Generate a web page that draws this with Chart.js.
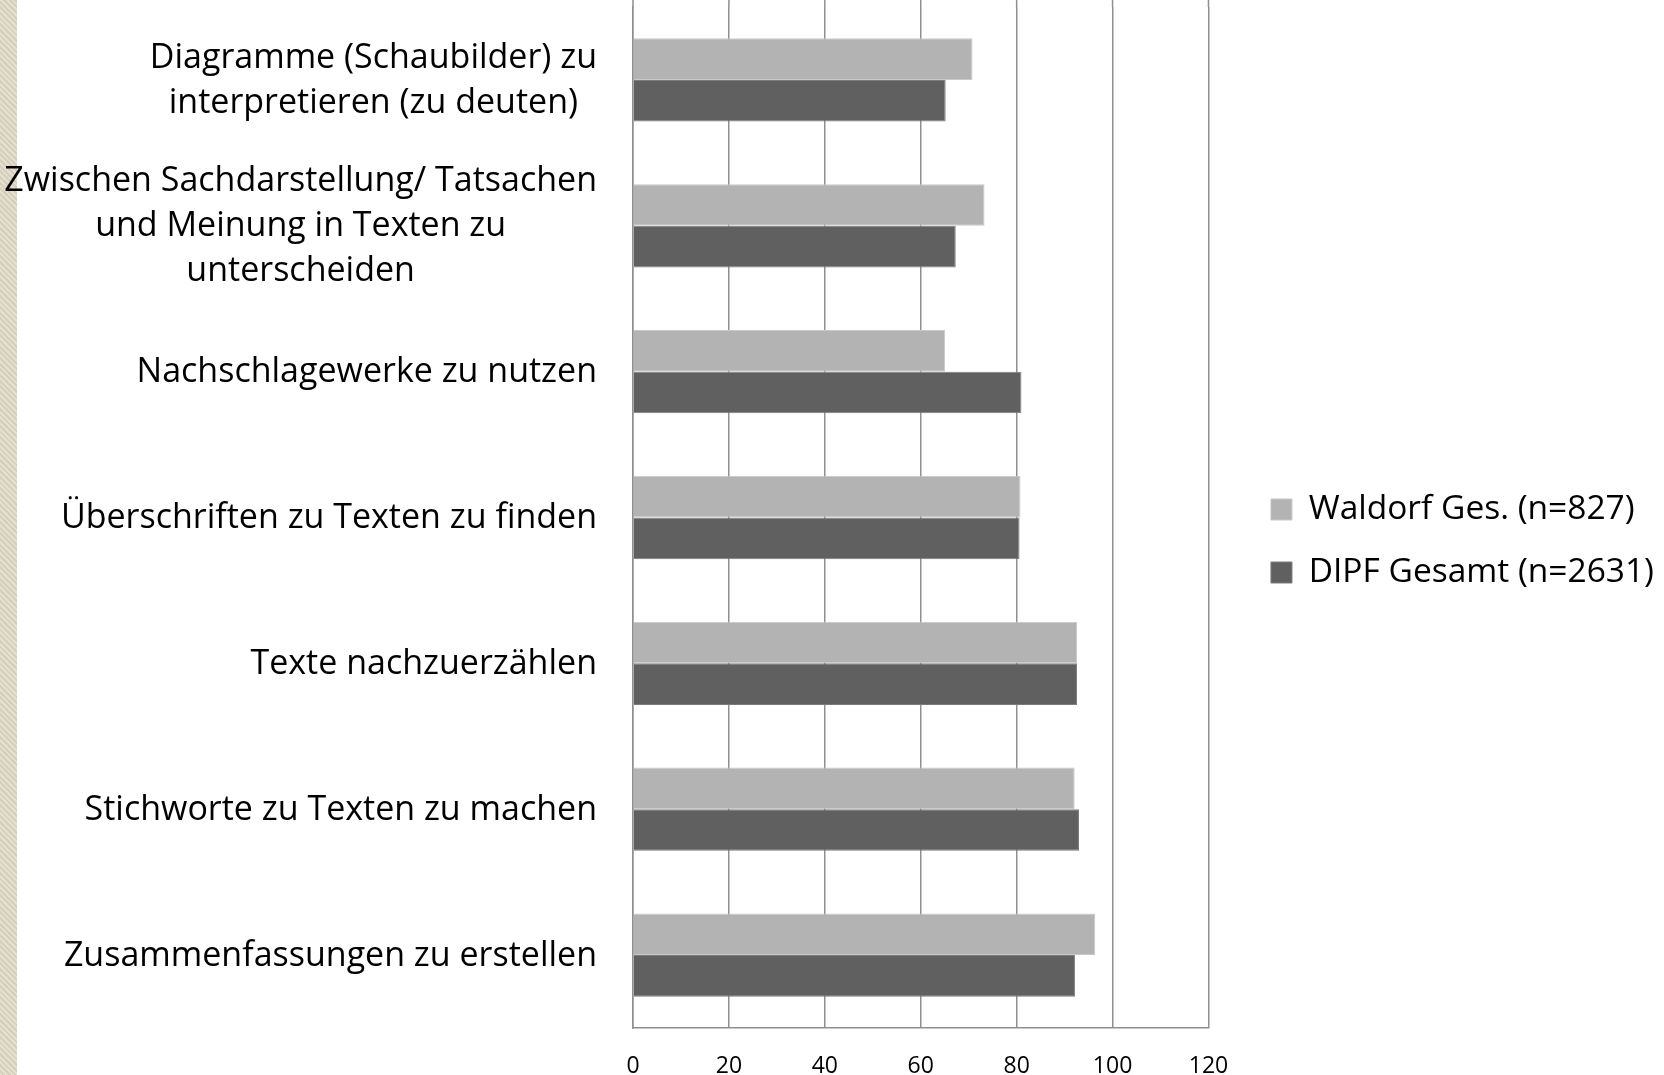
<!DOCTYPE html>
<html lang="de">
<head>
<meta charset="UTF-8">
<title>Lesefähigkeiten - Waldorf / DIPF</title>
<script src="https://cdn.jsdelivr.net/npm/chart.js"></script>
<style>
  body { margin: 0; background: #fff; overflow: hidden; }
  .rand {
    position: absolute; left: 0; top: 0; width: 17px; height: 1075px;
    background: repeating-linear-gradient(45deg, #e4e0d0 0 2px, #d5d0bc 2px 4px);
  }
  .wrap { position: absolute; left: 0; top: 0; width: 1664px; height: 1075px; }
</style>
</head>
<body>
<div class="rand"></div>
<div class="wrap"><canvas id="chart" width="1664" height="1075"></canvas></div>
<script>
// Kategorien (mehrzeilig als Array)
const kategorien = [
  ['Diagramme (Schaubilder) zu', 'interpretieren (zu deuten)'],
  ['Zwischen Sachdarstellung/ Tatsachen', 'und Meinung in Texten zu', 'unterscheiden'],
  'Nachschlagewerke zu nutzen',
  'Überschriften zu Texten zu finden',
  'Texte nachzuerzählen',
  'Stichworte zu Texten zu machen',
  'Zusammenfassungen zu erstellen'
];
const waldorf = [70.8, 73.3, 65.1, 80.8, 92.6, 92.1, 96.4];
const dipf    = [65.2, 67.3, 81.0, 80.6, 92.6, 93.0, 92.2];
const achseMin = 0, achseMax = 120, achseSchritt = 20;

const gitterFarbe = '#8f8f8f';
Chart.defaults.font.family = '"Open Sans", sans-serif';
Chart.defaults.color = '#000';

// Kategorie-Beschriftungen: Block rechtsbündig, Zeilen zentriert
const labelPlugin = {
  id: 'kategorieLabels',
  afterDraw(chart) {
    const ctx = chart.ctx, y = chart.scales.y;
    ctx.save();
    ctx.font = '34px "Open Sans"';
    ctx.fillStyle = '#000';
    ctx.textBaseline = 'middle';
    ctx.textAlign = 'center';
    const rechts = chart.chartArea.left - 36;
    kategorien.forEach((lab, i) => {
      const zeilen = Array.isArray(lab) ? lab : [lab];
      const breite = Math.max(...zeilen.map(z => ctx.measureText(z).width));
      const mitte = y.getPixelForValue(i) + 1;
      const x = rechts - breite / 2;
      zeilen.forEach((z, k) => {
        ctx.fillText(z, x, mitte + (k - (zeilen.length - 1) / 2) * 45);
      });
    });
    ctx.restore();
  }
};

// senkrechte Gitterlinien bis zum oberen Rand verlängern
const gitterOben = {
  id: 'gitterOben',
  beforeDatasetsDraw(chart) {
    const {ctx, chartArea, scales: {x}} = chart;
    ctx.save();
    ctx.strokeStyle = gitterFarbe;
    ctx.lineWidth = 1.5;
    x.ticks.forEach(t => {
      const px = x.getPixelForValue(t.value);
      ctx.beginPath();
      ctx.moveTo(px, 0);
      ctx.lineTo(px, chartArea.top);
      ctx.stroke();
    });
    ctx.restore();
  }
};

new Chart(document.getElementById('chart'), {
  type: 'bar',
  data: {
    labels: kategorien.map(k => Array.isArray(k) ? k.join(' ') : k),
    datasets: [
      {
        label: 'Waldorf Ges. (n=827)',
        data: waldorf,
        yAxisID: 'y',
        backgroundColor: '#b3b3b3',
        borderColor: '#c9c9c9',
        borderWidth: 1,
        categoryPercentage: 0.571,
        barPercentage: 1
      },
      {
        label: 'DIPF Gesamt (n=2631)',
        data: dipf,
        yAxisID: 'y',
        backgroundColor: '#606060',
        borderColor: '#7c7c7c',
        borderWidth: 1,
        categoryPercentage: 0.571,
        barPercentage: 1
      }
    ]
  },
  options: {
    indexAxis: 'y',
    responsive: false,
    animation: false,
    layout: { padding: { top: 7, right: 0, bottom: 0, left: 0 } },
    scales: {
      y: {
        type: 'category',
        position: 'left',
        ticks: { display: false },
        grid: { display: false },
        border: { display: true, color: gitterFarbe, width: 1.5 },
        afterFit(s) { s.width = 633; }
      },
      rand: {
        type: 'linear',
        axis: 'y',
        position: 'right',
        ticks: { display: false },
        grid: { display: false },
        border: { display: false },
        afterFit(s) { s.width = 33; }
      },
      x: {
        min: achseMin,
        max: achseMax,
        ticks: {
          stepSize: achseSchritt,
          padding: 25,
          font: { size: 23 },
          color: '#000'
        },
        grid: { color: gitterFarbe, lineWidth: 1.5, drawTicks: false },
        border: { display: true, color: gitterFarbe, width: 1.5 },
        afterFit(s) { s.height = 47; }
      }
    },
    plugins: {
      legend: {
        position: 'right',
        maxWidth: 600,
        labels: {
          boxWidth: 21,
          boxHeight: 21,
          padding: 29.5,
          color: '#000',
          font: { size: 33.5 }
        }
      },
      tooltip: { enabled: false }
    }
  },
  plugins: [labelPlugin, gitterOben]
});
</script>
</body>
</html>
